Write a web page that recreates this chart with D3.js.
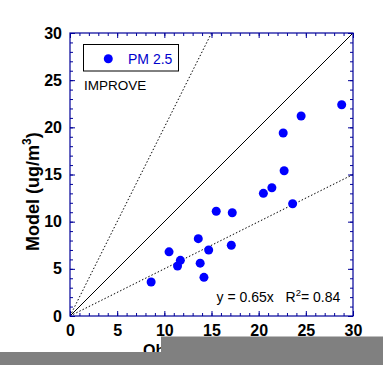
<!DOCTYPE html>
<html><head><meta charset="utf-8">
<script src="https://cdn.jsdelivr.net/npm/d3@7"></script>
<style>body{margin:0;background:#fff}svg{display:block}</style>
</head><body>
<script>
// Data
const obsValues = [8.6, 10.5, 11.4, 11.7, 13.6, 13.8, 14.7, 14.2, 15.5, 17.1, 17.2, 20.5, 21.4, 23.6, 22.7, 22.6, 24.5, 28.8];
const modValues = [3.6, 6.8, 5.3, 5.9, 8.2, 5.6, 7.0, 4.1, 11.1, 7.5, 10.95, 13.0, 13.6, 11.9, 15.4, 19.4, 21.2, 22.4];
const majorTicks = [0, 5, 10, 15, 20, 25, 30];
const minorTicks = d3.range(0, 31, 1);
const refSlopes = [1, 2, 0.5];
const legendLabel = "PM 2.5";
const networkLabel = "IMPROVE";
const fitText = "y = 0.65x";
const r2Text = "= 0.84";

const W = 383, H = 365;
const svg = d3.select("body").append("svg").attr("width", W).attr("height", H);
const x = d3.scaleLinear().domain([0, 30]).range([70, 353]);
const y = d3.scaleLinear().domain([0, 30]).range([316, 33]);
const navy = "#000099";
const font = "Arial, 'Liberation Sans', Helvetica, sans-serif";

svg.append("defs").append("clipPath").attr("id", "clip")
  .append("rect").attr("x", 70).attr("y", 33).attr("width", 283).attr("height", 283);

// reference lines
const lines = svg.append("g").attr("clip-path", "url(#clip)");
refSlopes.forEach((s, i) => {
  lines.append("line")
    .attr("x1", x(0)).attr("y1", y(0))
    .attr("x2", x(30)).attr("y2", y(30 * s))
    .attr("stroke", "#000").attr("stroke-width", 1)
    .attr("stroke-dasharray", i === 0 ? null : "1.5,2");
});

// axes: minor ticks
function styleAxis(g) {
  g.select(".domain").remove();
  g.selectAll("line").attr("stroke", navy);
  g.selectAll("text").attr("font-family", font).attr("font-weight", "bold")
    .attr("font-size", 16).attr("fill", "#000");
}
const fmtNone = () => "";
svg.append("g").attr("transform", "translate(0,316)")
  .call(d3.axisBottom(x).tickValues(minorTicks).tickSizeInner(-3).tickSizeOuter(0).tickFormat(fmtNone)).call(styleAxis);
svg.append("g").attr("transform", "translate(0,33)")
  .call(d3.axisTop(x).tickValues(minorTicks).tickSizeInner(-3).tickSizeOuter(0).tickFormat(fmtNone)).call(styleAxis);
svg.append("g").attr("transform", "translate(70,0)")
  .call(d3.axisLeft(y).tickValues(minorTicks).tickSizeInner(-3).tickSizeOuter(0).tickFormat(fmtNone)).call(styleAxis);
svg.append("g").attr("transform", "translate(353,0)")
  .call(d3.axisRight(y).tickValues(minorTicks).tickSizeInner(-3).tickSizeOuter(0).tickFormat(fmtNone)).call(styleAxis);
// major ticks
svg.append("g").attr("transform", "translate(0,316)")
  .call(d3.axisBottom(x).tickValues(majorTicks).tickSizeInner(-5).tickSizeOuter(0).tickPadding(9).tickFormat(d3.format("d"))).call(styleAxis);
svg.append("g").attr("transform", "translate(0,33)")
  .call(d3.axisTop(x).tickValues(majorTicks).tickSizeInner(-5).tickSizeOuter(0).tickFormat(fmtNone)).call(styleAxis);
svg.append("g").attr("transform", "translate(70,0)")
  .call(d3.axisLeft(y).tickValues(majorTicks).tickSizeInner(-5).tickSizeOuter(0).tickPadding(8).tickFormat(d3.format("d"))).call(styleAxis);
svg.append("g").attr("transform", "translate(353,0)")
  .call(d3.axisRight(y).tickValues(majorTicks).tickSizeInner(-5).tickSizeOuter(0).tickFormat(fmtNone)).call(styleAxis);

// frame
svg.append("rect").attr("x", 70).attr("y", 33).attr("width", 283).attr("height", 283)
  .attr("fill", "none").attr("stroke", navy).attr("stroke-width", 1.2);

// points
svg.append("g").selectAll("circle").data(obsValues).join("circle")
  .attr("cx", (d) => x(d)).attr("cy", (d, i) => y(modValues[i]))
  .attr("r", 4.5).attr("fill", "#0000ff");

// legend
svg.append("rect").attr("x", 83.5).attr("y", 44.5).attr("width", 95).attr("height", 26.5)
  .attr("fill", "#fff").attr("stroke", "#000").attr("stroke-width", 1);
svg.append("circle").attr("cx", 108.3).attr("cy", 58.7).attr("r", 4.5).attr("fill", "#0000ff");
svg.append("text").attr("x", 128).attr("y", 63.5).attr("font-family", font).attr("font-size", 14)
  .attr("fill", "#0000cc").text(legendLabel);
svg.append("text").attr("x", 84).attr("y", 90).attr("font-family", font).attr("font-size", 13.5)
  .attr("fill", "#000").text(networkLabel);

// fit text
const ft = svg.append("text").attr("x", 216.5).attr("y", 301.5).attr("font-family", font)
  .attr("font-size", 14).attr("fill", "#000");
ft.append("tspan").text(fitText);
ft.append("tspan").attr("x", 285.5).text("R");
ft.append("tspan").attr("dy", -6).attr("font-size", 9.5).text("2");
ft.append("tspan").attr("dy", 6).text(r2Text);

// y axis title
const yt = svg.append("text").attr("transform", "translate(38.5,251) rotate(-90)")
  .attr("font-family", font).attr("font-weight", "bold").attr("font-size", 18).attr("fill", "#000");
yt.append("tspan").text("Model (ug/m");
yt.append("tspan").attr("dy", -8).attr("font-size", 12).text("3");
yt.append("tspan").attr("dy", 8).text(")");

// x axis title (partly hidden)
const xt = svg.append("text").attr("x", 143).attr("y", 356)
  .attr("font-family", font).attr("font-weight", "bold").attr("font-size", 16).attr("fill", "#000");
xt.append("tspan").text("Observed (ug/m");
xt.append("tspan").attr("dy", -7).attr("font-size", 11).text("3");
xt.append("tspan").attr("dy", 7).text(")");

// grey covering boxes
svg.append("rect").attr("x", 161).attr("y", 336.5).attr("width", W - 161).attr("height", H - 336.5).attr("fill", "#808080");
svg.append("rect").attr("x", 0).attr("y", 352).attr("width", W).attr("height", H - 352).attr("fill", "#808080");
</script>
</body></html>
